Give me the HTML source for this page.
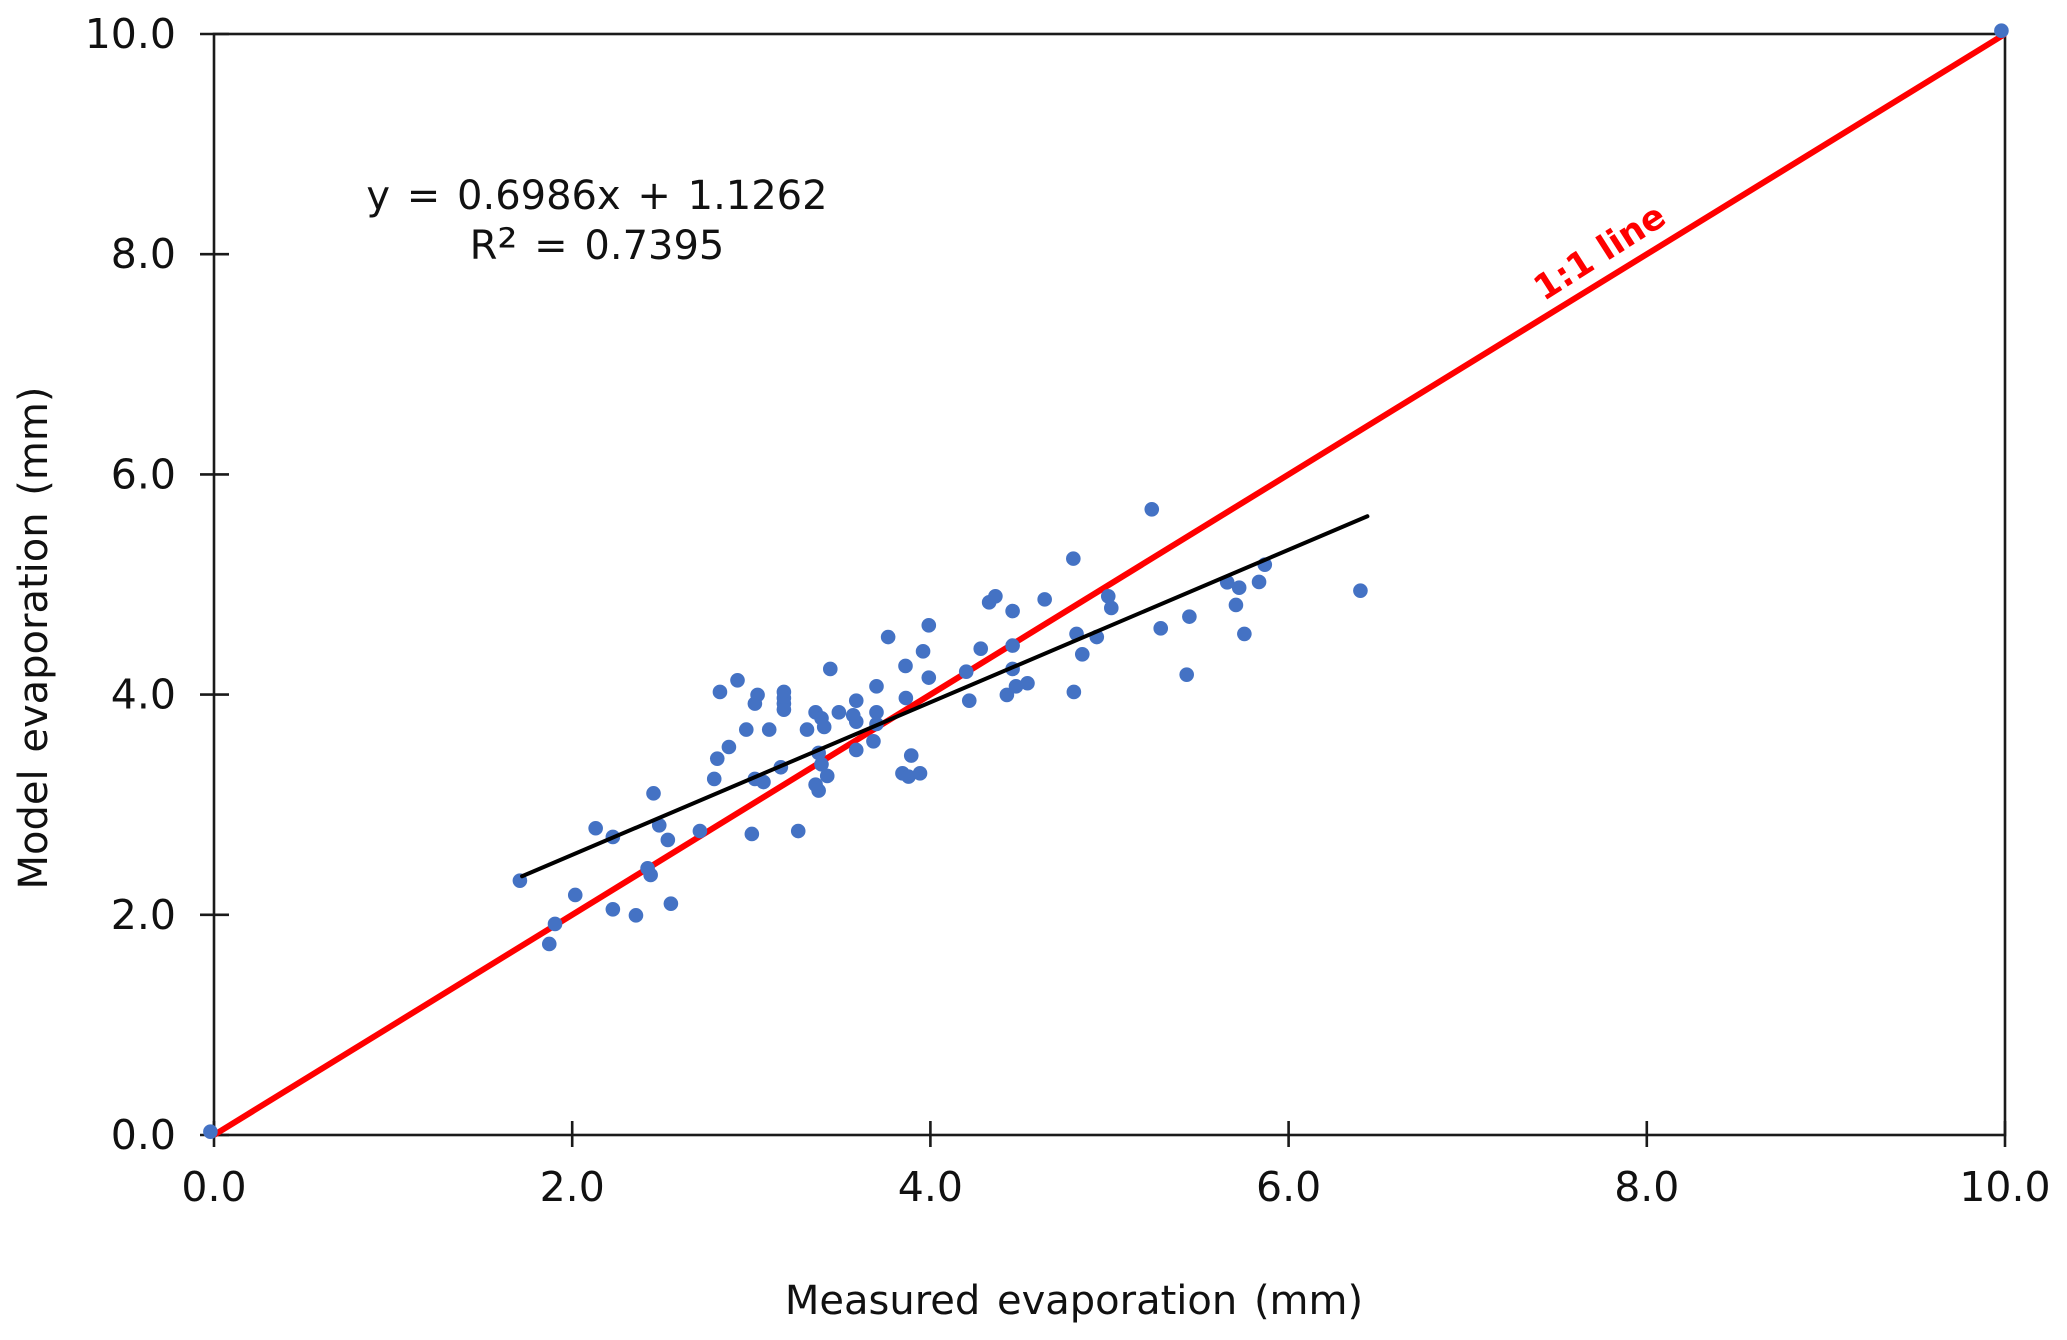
<!DOCTYPE html>
<html lang="en">
<head>
<meta charset="utf-8">
<title>Model vs measured evaporation</title>
<style>
html,body{margin:0;padding:0;background:#fff;width:2067px;height:1340px;overflow:hidden}
svg{display:block}
text{font-family:"DejaVu Sans","Liberation Sans",sans-serif;fill:#111;word-spacing:4px}
.tick{font-size:41px}
.axis-title{font-size:40px}
.eq{font-size:40px;word-spacing:4px}
</style>
</head>
<body>
<svg id="chart" xmlns="http://www.w3.org/2000/svg" width="2067" height="1340" viewBox="0 0 2067 1340">
  <rect x="0" y="0" width="2067" height="1340" fill="#ffffff"/>
  <g id="axes"></g>
  <g id="lines"></g>
  <g id="points"></g>
  <text class="axis-title" x="1074" y="1314" text-anchor="middle">Measured evaporation (mm)</text>
  <text class="axis-title" transform="translate(47,638) rotate(-90)" text-anchor="middle">Model evaporation (mm)</text>
  <text class="eq" x="597" y="209" text-anchor="middle">y = 0.6986x + 1.1262</text>
  <text class="eq" x="597" y="259" text-anchor="middle">R<tspan font-size="50" dy="5">²</tspan><tspan dy="-5"> = 0.7395</tspan></text>
  <text transform="translate(1606,262) rotate(-32.5)" text-anchor="middle" style="font-size:35px;font-weight:bold;fill:#ff0000;word-spacing:0">1:1 line</text>
</svg>
<script>
const xTickValues = [0, 2, 4, 6, 8, 10];
const yTickValues = [0, 2, 4, 6, 8, 10];
const xTickLabels = ['0.0', '2.0', '4.0', '6.0', '8.0', '10.0'];
const yTickLabels = ['0.0', '2.0', '4.0', '6.0', '8.0', '10.0'];
const measured = [-0.02, 1.708, 2.017, 1.904, 1.872, 2.227, 2.356, 2.551, 2.421, 2.438, 2.713, 3.003, 3.262, 2.131, 2.227, 2.486, 2.534, 2.454, 2.793, 2.81, 2.875, 3.02, 3.068, 3.165, 2.972, 3.1, 3.311, 2.825, 2.923, 3.02, 3.035, 3.182, 3.182, 3.182, 3.182, 3.359, 3.392, 3.407, 3.489, 3.441, 3.569, 3.586, 3.586, 3.699, 3.699, 3.699, 3.682, 3.586, 3.376, 3.392, 3.424, 3.359, 3.376, 3.764, 3.893, 3.844, 3.878, 3.942, 3.861, 3.863, 3.991, 3.959, 3.991, 4.281, 4.2, 4.217, 4.427, 4.478, 4.542, 4.459, 4.459, 4.459, 4.328, 4.363, 4.638, 4.798, 5.236, 4.993, 5.01, 4.816, 4.929, 4.848, 4.801, 5.286, 5.446, 5.431, 5.657, 5.724, 5.835, 5.867, 5.706, 5.753, 6.401, 9.98];
const modelled = [0.03, 2.31, 2.18, 1.917, 1.735, 2.05, 1.995, 2.101, 2.422, 2.362, 2.761, 2.734, 2.761, 2.786, 2.707, 2.813, 2.68, 3.103, 3.234, 3.418, 3.524, 3.234, 3.206, 3.34, 3.682, 3.682, 3.682, 4.024, 4.13, 3.918, 3.997, 4.024, 3.969, 3.918, 3.863, 3.839, 3.785, 3.706, 3.839, 4.233, 3.812, 3.754, 3.945, 4.075, 3.839, 3.733, 3.576, 3.497, 3.47, 3.367, 3.261, 3.182, 3.128, 4.523, 3.446, 3.285, 3.255, 3.285, 4.26, 3.969, 4.629, 4.393, 4.154, 4.417, 4.208, 3.945, 3.997, 4.075, 4.103, 4.233, 4.445, 4.759, 4.838, 4.893, 4.865, 5.235, 5.683, 4.893, 4.787, 4.551, 4.523, 4.366, 4.024, 4.602, 4.708, 4.181, 5.02, 4.971, 5.023, 5.18, 4.814, 4.551, 4.944, 10.03];
const oneToOneX = [0, 10];
const oneToOneY = [0, 10];
const trendX = [1.72, 6.44];
const trendY = [2.35, 5.62];

const NS = 'http://www.w3.org/2000/svg';
const plotLeft = 214, plotRight = 2005, plotTop = 34, plotBottom = 1135;
const xDomainMax = 10, yDomainMax = 10;
function xScale(v) { return plotLeft + (v / xDomainMax) * (plotRight - plotLeft); }
function yScale(v) { return plotBottom - (v / yDomainMax) * (plotBottom - plotTop); }
function make(tag, attrs, parent) {
  const el = document.createElementNS(NS, tag);
  for (const k in attrs) el.setAttribute(k, attrs[k]);
  parent.appendChild(el);
  return el;
}
const axes = document.getElementById('axes');
const lines = document.getElementById('lines');
const points = document.getElementById('points');
const axisStyle = { stroke: '#1a1a1a', 'stroke-width': 2.6, fill: 'none' };

const frame = make('rect', Object.assign({ x: plotLeft, y: plotTop, width: plotRight - plotLeft, height: plotBottom - plotTop }, axisStyle), axes);



xTickValues.forEach(function (v, i) {
  const tick = make('line', Object.assign({ x1: xScale(v), x2: xScale(v), y1: plotBottom - 14, y2: plotBottom + 12 }, axisStyle), axes);
  
  
  const label = make('text', { class: 'tick', x: xScale(v), y: plotBottom + 66, 'text-anchor': 'middle' }, axes);
  
  
  label.textContent = xTickLabels[i];
});

yTickValues.forEach(function (v, i) {
  const tick = make('line', Object.assign({ x1: plotLeft - 14, x2: plotLeft + 15, y1: yScale(v), y2: yScale(v) }, axisStyle), axes);
  
  
  const label = make('text', { class: 'tick', x: plotLeft - 38, y: yScale(v) + 14, 'text-anchor': 'end' }, axes);
  
  
  label.textContent = yTickLabels[i];
});

const redLine = make('line', { x1: xScale(oneToOneX[0]), y1: yScale(oneToOneY[0]), x2: xScale(oneToOneX[1]), y2: yScale(oneToOneY[1]), stroke: '#ff0000', 'stroke-width': 6 }, lines);



const blackLine = make('line', { x1: xScale(trendX[0]), y1: yScale(trendY[0]), x2: xScale(trendX[1]), y2: yScale(trendY[1]), stroke: '#000000', 'stroke-width': 4, 'stroke-linecap': 'round' }, lines);



measured.forEach(function (v, i) {
  const dot = make('circle', { cx: xScale(v), cy: yScale(modelled[i]), r: 7.3, fill: '#4472c4' }, points);
  
  
});

// Draw the dots beneath the trend line but above the red line, as in the source chart.
lines.parentNode.insertBefore(redLine, lines);
lines.parentNode.insertBefore(points, lines);
</script>
</body>
</html>
